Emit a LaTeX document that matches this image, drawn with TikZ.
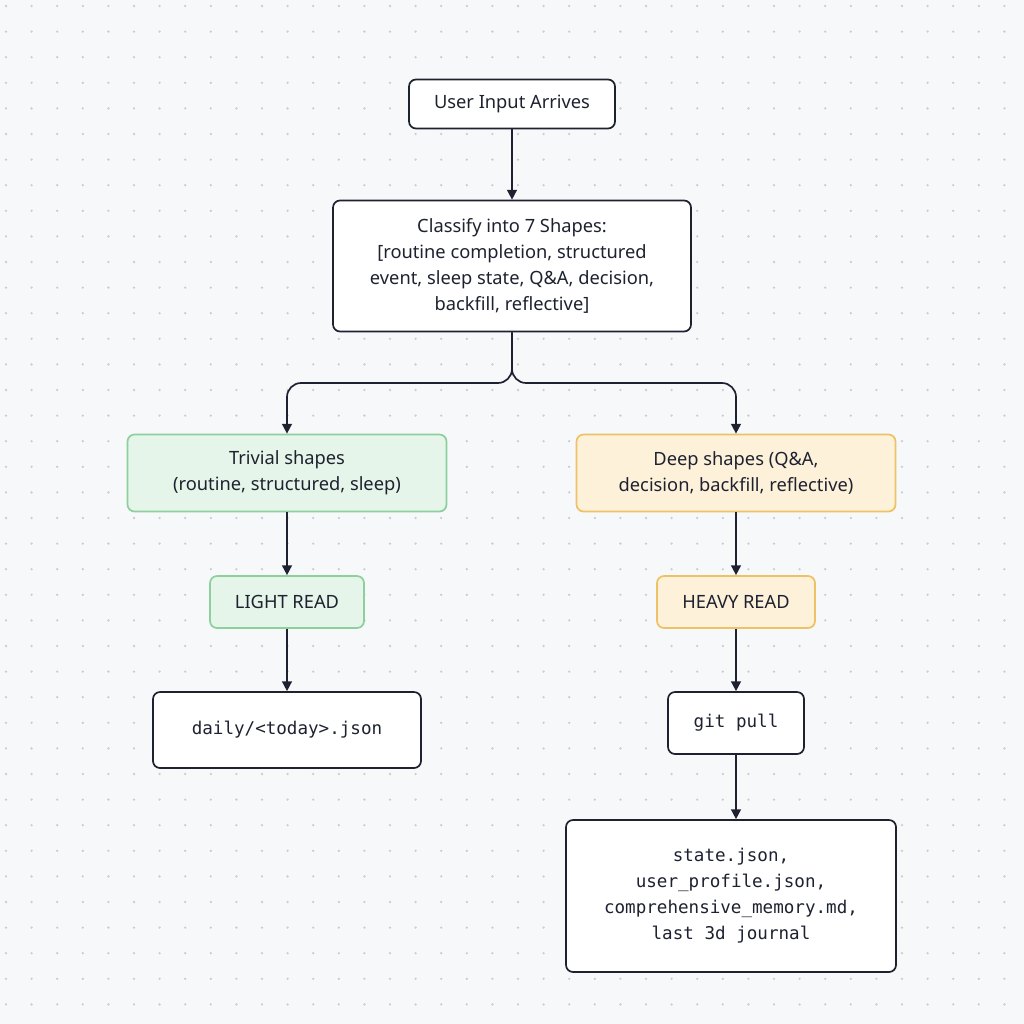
\documentclass[tikz,border=0pt]{standalone}
\usepackage{fontspec}
\setmainfont{Noto Sans}
\setmonofont{DejaVu Sans Mono}
\usetikzlibrary{arrows.meta}
\usetikzlibrary{positioning}
\definecolor{bgpaper}{HTML}{F7F8FA}
\definecolor{griddot}{HTML}{C9CCD2}
\definecolor{inkline}{HTML}{1E2230}
\definecolor{greenfill}{HTML}{E5F5E9}
\definecolor{greenline}{HTML}{8ED09D}
\definecolor{amberfill}{HTML}{FDF1DA}
\definecolor{amberline}{HTML}{EDC166}
\begin{document}
\begin{tikzpicture}[x=0.025cm,y=-0.025cm]
			\tikzset{box/.style = {shape=rectangle,draw=inkline,fill=white,line width=1.2pt,
					rounded corners=5pt,inner sep=0pt,align=center,
					font=\fontsize{13}{18.5}\selectfont,text=inkline}}
			\tikzset{trivial/.style = {box,fill=greenfill,draw=greenline}}
			\tikzset{deep/.style = {box,fill=amberfill,draw=amberline}}
			\tikzset{code/.style = {font=\ttfamily\fontsize{12.5}{18.5}\selectfont}}
			\tikzset{edge/.style = {-{Stealth[length=7pt,width=7pt,inset=0pt]},line width=1.2pt,draw=inkline}}
			
			% paper
			\useasboundingbox (0,0) rectangle (1024,1024);
			\fill[bgpaper] (0,0) rectangle (1024,1024);
			\foreach \i in {0,...,39} {
				\foreach \j in {0,...,39} {
					\fill[griddot] (\i*25.6+6,\j*25.6+6) circle (0.9pt);
				}
			}
			
			% vertices
			\node[box,minimum width=206*0.025cm,minimum height=49*0.025cm] (input) at (512,104) {User Input Arrives};
			\node[box,minimum width=358*0.025cm,minimum height=131*0.025cm] (classify) at (512,266)
				{Classify into 7 Shapes:\\ {[}routine completion, structured\\ event, sleep state, Q\&A, decision,\\ backfill, reflective{]}};
			\node[trivial,minimum width=319*0.025cm,minimum height=77*0.025cm] (triv) at (287,473)
				{Trivial shapes\\ (routine, structured, sleep)};
			\node[deep,minimum width=319*0.025cm,minimum height=77*0.025cm] (deepsh) at (736,473)
				{Deep shapes (Q\&A,\\ decision, backfill, reflective)};
			\node[trivial,minimum width=154*0.025cm,minimum height=52*0.025cm] (light) at (287,602) {LIGHT READ};
			\node[deep,minimum width=158*0.025cm,minimum height=52*0.025cm] (heavy) at (736,602) {HEAVY READ};
			\node[box,code,minimum width=268*0.025cm,minimum height=76*0.025cm] (daily) at (287,730) {daily/<today>.json};
			\node[box,code,minimum width=136*0.025cm,minimum height=62*0.025cm] (git) at (736,723) {git pull};
			\node[box,code,minimum width=330*0.025cm,minimum height=152*0.025cm] (files) at (731,896)
				{state.json,\\ user\_profile.json,\\ comprehensive\_memory.md,\\ last 3d journal};
			
			% edges
			\coordinate (split) at (512,383);
			\draw[edge] (input) to (classify);
			\draw[edge,rounded corners=10pt] (classify.south) -- (split) -| (triv.north);
			\draw[edge,rounded corners=10pt] (classify.south) -- (split) -| (deepsh.north);
			\draw[edge] (triv) to (light);
			\draw[edge] (light) to (daily);
			\draw[edge] (deepsh) to (heavy);
			\draw[edge] (heavy) to (git);
			\draw[edge] (git) to (git |- files.north);
\end{tikzpicture}
\end{document}
